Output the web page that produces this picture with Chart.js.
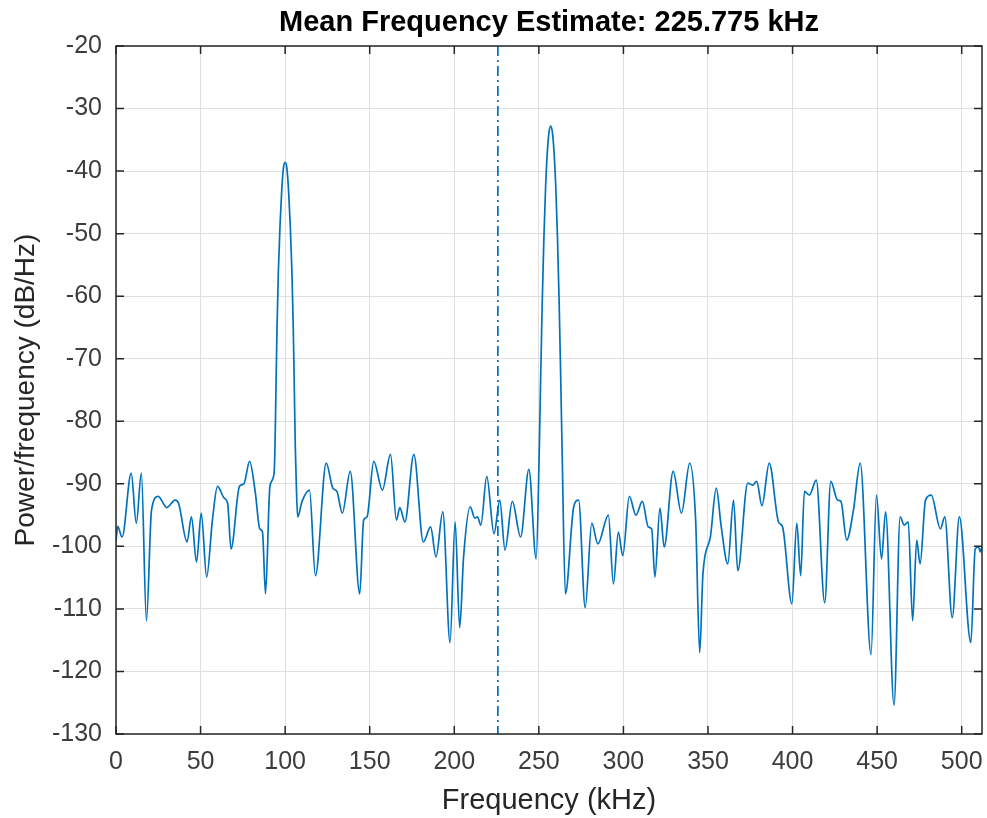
<!DOCTYPE html>
<html>
<head>
<meta charset="utf-8">
<script src="https://cdn.jsdelivr.net/npm/chart.js@4.4.3/dist/chart.umd.min.js"></script>
<style>
  html, body { margin: 0; padding: 0; background: #fff; }
  #wrap { width: 987px; height: 818px; }
</style>
</head>
<body>
<div id="wrap"><canvas id="psd" width="987" height="818"></canvas></div>
<script>
// spectrum (kHz, dB/Hz) - peaks and dips only
const freqKHz = [
  0, 1, 3.6, 9, 12, 15, 18, 21, 25, 30, 35, 37, 42, 44.6, 47.6, 50.4, 53.6, 57, 60, 64,
  66, 68, 73, 75.6, 79, 82.4, 85, 86.6, 88.4, 91, 93.4,
  94, 94.5, 95.2, 96, 97, 98, 99, 100, 101, 102, 103, 104, 104.8, 105.5, 106, 106.7, 107.4,
  110, 114.4, 117.9, 124.3, 128.2, 130.6, 133.8, 138.5, 144.1, 146.4, 148.4, 152.4, 157.5,
  162.3, 165.8, 167.8, 170.8, 176.1, 181.7, 186, 189.2, 193.2, 197.5, 200.5, 203.2, 205.5,
  209.4, 212.2, 213.7, 215.7, 219.2, 223.5, 226.9, 230, 234.3, 239.2, 244.1, 248.4,
  250.3, 251, 252, 253, 254, 255, 256, 257, 258, 259, 260, 261, 262, 263, 263.7, 265.7,
  270.6, 273.5, 277.4, 281.3, 284.9, 291.1, 294.1, 297, 299.6, 303.5, 307.4, 311.2, 314.7,
  316.7, 318.6, 321.6, 324.1, 329.4, 334.3, 339.2, 342.7, 345.1, 347, 351.4, 354.9, 357.8,
  361.7, 365.1, 367.6, 373.5, 376.4, 378.8, 381.9, 386.2, 391.7, 394.1, 399.6,
  402.5, 404.8, 407, 410, 414, 419, 422.6, 426.6, 428.6, 432, 436, 440, 446.4, 449.6,
  452.6, 455, 460, 463.6, 466, 468.4, 471, 473.4, 475.4, 478.6, 482, 487.4, 490, 494.4,
  498.6, 505.4, 508, 510, 511, 512
];
const powerDb = [
  -99.2, -96.8, -98.5, -88.3, -96.3, -88.3, -111.9, -94.2, -92, -93.8, -92.6, -93.1, -99.3, -95.3, -102.5, -94.7, -104.9, -95.8, -90.4, -92.3,
  -93.1, -100.4, -90.4, -90, -86.4, -91.5, -97.2, -97.7, -107.6, -90.4, -88.5,
  -84, -76, -65, -56, -48.5, -43, -39.5, -38.6, -39.5, -43, -48.5, -56, -65, -76, -84, -91, -95.3,
  -92.8, -91, -104.7, -86.7, -90.7, -91.2, -94.7, -88, -107.6, -95.8, -95.3, -86.4, -91,
  -85.3, -95.8, -93.8, -96.1, -85.3, -99.3, -96.9, -101.7, -94.5, -115.4, -96.1, -113, -101.7,
  -93.7, -95.5, -95.3, -96.6, -88.8, -98, -92.6, -100.6, -92.8, -98.5, -87.7, -102,
  -84, -74, -61, -50.5, -42.5, -37, -33.8, -32.8, -33.8, -37, -42.5, -50.5, -61, -74, -84, -107.6,
  -93.7, -92.6, -109.8, -96.3, -99.6, -95, -106, -97.7, -101.5, -92, -95, -92.8, -96.9,
  -97.2, -104.9, -93.9, -100.1, -88, -94.7, -86.7, -95.8, -117, -104.4, -98.5, -90.7, -96.8,
  -102.8, -92.6, -103.9, -89.9, -90.2, -89.6, -93.5, -86.7, -96.1, -96.9, -109.2,
  -96.3, -104.7, -91.2, -91.8, -89.4, -109, -89.6, -92.6, -92.8, -99, -94.2, -86.7, -117.3, -91.8,
  -102, -94.5, -125.4, -95.3, -96.6, -96.1, -111.9, -99, -102.8, -92.6, -91.8, -97.2, -95.3, -111.4,
  -95.3, -115.4, -100.4, -100.1, -100.9, -100.1
];
const meanFreq = 225.775;
const xTicks = [0, 50, 100, 150, 200, 250, 300, 350, 400, 450, 500];
const yTicks = [-130, -120, -110, -100, -90, -80, -70, -60, -50, -40, -30, -20];

const FONT = '"Liberation Sans", Arial, Helvetica, sans-serif';
const AXIS = '#262626';
const BLUE = '#0072BD';

// title centred on the axes box, like matlab
const titlePlugin = {
  id: 'mfTitle',
  afterDraw(chart) {
    const { ctx, chartArea: a } = chart;
    ctx.save();
    ctx.font = 'bold 29px ' + FONT;
    ctx.fillStyle = '#000';
    ctx.textAlign = 'center';
    ctx.textBaseline = 'middle';
    ctx.fillText('Mean Frequency Estimate: ' + meanFreq + ' kHz', (a.left + a.right) / 2, 23);
    ctx.restore();
  }
};

// closed box with inward ticks on all four sides
const boxPlugin = {
  id: 'axesBox',
  afterDatasetsDraw(chart) {
    const { ctx, chartArea: a, scales } = chart;
    const tl = 8;
    ctx.save();
    ctx.strokeStyle = AXIS;
    ctx.lineWidth = 1.5;
    ctx.beginPath();
    xTicks.forEach(v => {
      const px = scales.x.getPixelForValue(v);
      ctx.moveTo(px, a.bottom); ctx.lineTo(px, a.bottom - tl);
      ctx.moveTo(px, a.top); ctx.lineTo(px, a.top + tl);
    });
    yTicks.forEach(v => {
      const py = scales.y.getPixelForValue(v);
      ctx.moveTo(a.left, py); ctx.lineTo(a.left + tl, py);
      ctx.moveTo(a.right, py); ctx.lineTo(a.right - tl, py);
    });
    ctx.stroke();
    ctx.strokeRect(a.left, a.top, a.right - a.left, a.bottom - a.top);
    ctx.restore();
  }
};

new Chart(document.getElementById('psd'), {
  type: 'line',
  data: {
    datasets: [
      {
        data: freqKHz.map((f, i) => ({ x: f, y: powerDb[i] })),
        borderColor: BLUE,
        borderWidth: 1.7,
        pointRadius: 0,
        cubicInterpolationMode: 'monotone',
        fill: false
      },
      {
        data: [{ x: meanFreq, y: -20 }, { x: meanFreq, y: -130 }],
        borderColor: BLUE,
        borderWidth: 1.7,
        borderDash: [10, 4, 2, 4],
        pointRadius: 0,
        tension: 0,
        fill: false
      }
    ]
  },
  options: {
    responsive: false,
    devicePixelRatio: 1,
    animation: false,
    layout: { padding: { top: 46, right: 5, left: 0, bottom: 0 } },
    plugins: { legend: { display: false }, tooltip: { enabled: false }, title: { display: false } },
    scales: {
      x: {
        type: 'linear',
        min: 0, max: 512,
        afterBuildTicks: s => { s.ticks = xTicks.map(v => ({ value: v })); },
        afterFit: s => { s.height = 84; s.paddingRight = 0; s.paddingLeft = 0; },
        grid: { color: '#dfdfdf', lineWidth: 1, drawTicks: false },
        border: { display: false },
        ticks: { color: '#3c3c3c', font: { family: FONT, size: 25 }, padding: 13, maxRotation: 0, autoSkip: false },
        title: { display: true, text: 'Frequency (kHz)', color: AXIS, font: { family: FONT, size: 29 }, padding: { top: 0, bottom: 0 } }
      },
      y: {
        type: 'linear',
        min: -130, max: -20,
        afterBuildTicks: s => { s.ticks = yTicks.map(v => ({ value: v })); },
        afterFit: s => { s.width = 116; s.paddingTop = 0; s.paddingBottom = 0; },
        grid: { color: '#dfdfdf', lineWidth: 1, drawTicks: false },
        border: { display: false },
        ticks: { color: '#3c3c3c', font: { family: FONT, size: 25 }, padding: 14, autoSkip: false },
        title: { display: true, text: 'Power/frequency (dB/Hz)', color: AXIS, font: { family: FONT, size: 28 }, padding: { top: 9, bottom: 0 } }
      }
    }
  },
  plugins: [titlePlugin, boxPlugin]
});
</script>
</body>
</html>
